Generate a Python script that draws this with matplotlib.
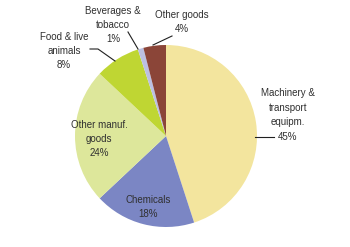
import numpy as np
import matplotlib
matplotlib.use('Agg')
import matplotlib.pyplot as plt

categories = ['Machinery &\ntransport\nequipm.', 'Chemicals', 'Other manuf.\ngoods',
              'Food & live\nanimals', 'Beverages &\ntobacco', 'Other goods']
shares = [45, 18, 24, 8, 1, 4]
colors = ['#F3E59E', '#7B86C4', '#DDE79B', '#BFD633', '#BCC0E2', '#8B4538']

plt.rcParams['font.family'] = ['Liberation Sans', 'DejaVu Sans']

W, H = 350, 247
f = plt.figure(figsize=(3.5, 2.47), dpi=100)
ax = f.add_axes([0, 0, 1, 1])

cx, cy, r = 166, H - 136, 91
wedges, _ = ax.pie(shares, colors=colors, startangle=90, counterclock=False,
                   center=(cx, cy), radius=r, wedgeprops=dict(linewidth=0))

# label centres (x, y from top)
label_pos = [(288, 115), (148, 207), (99, 139), (64, 51), (113, 25), (182, 22)]
# leader lines, pixel coords from top: list of points or None
leaders = [[(255, 137), (274, 137)], None, None,
           [(90, 49), (98, 49), (115, 61)],
           [(128, 32), (138, 49)],
           [(153, 45), (172, 36)]]

for i, (lab, pct) in enumerate(zip(categories, shares)):
    x, y = label_pos[i]
    ax.text(x, H - y, '{}\n{}%'.format(lab, pct), ha='center', va='center',
            fontsize=7, color='#303030', linespacing=1.55)
    if leaders[i]:
        xs = [p[0] for p in leaders[i]]
        ys = [H - p[1] for p in leaders[i]]
        ax.plot(xs, ys, color='#202020', lw=0.8)

ax.set_xlim(0, W)
ax.set_ylim(0, H)
ax.set_aspect('auto')
ax.axis('off')

f.savefig('out.png', dpi=100)
plt.close(f)
